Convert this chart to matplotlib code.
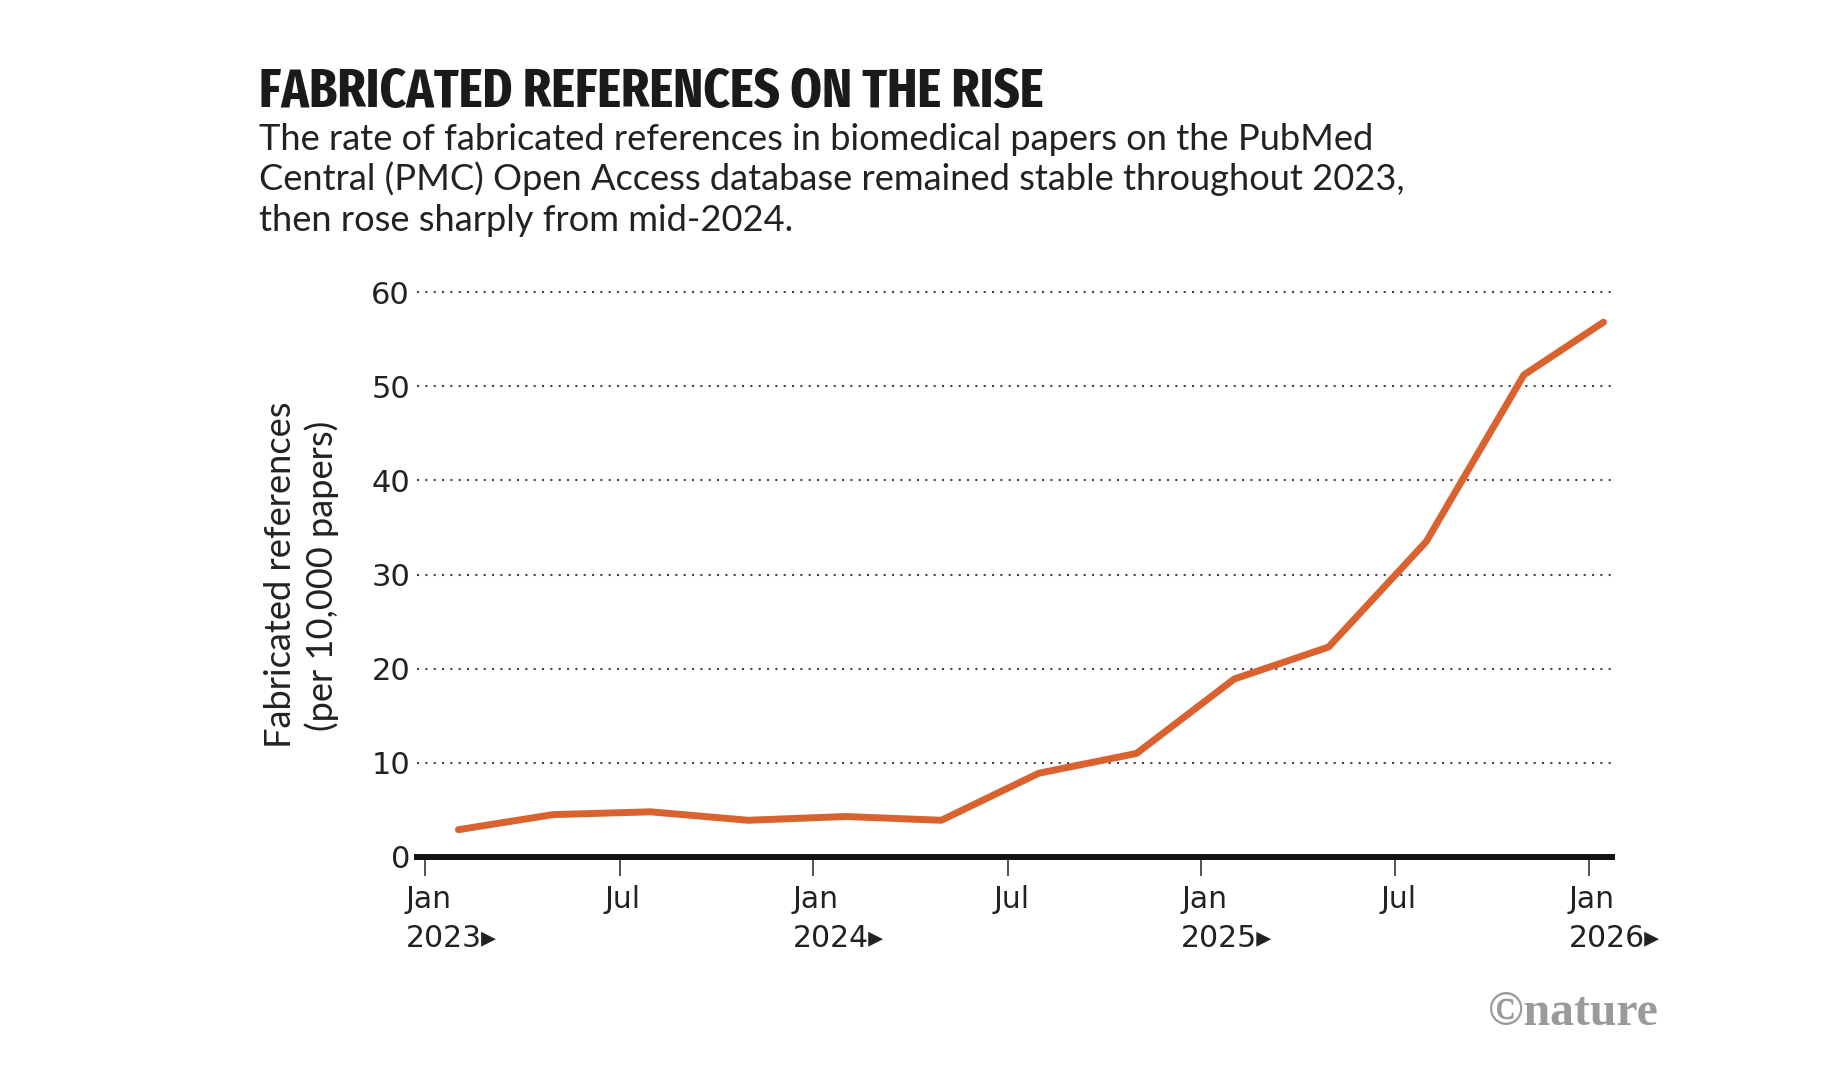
import matplotlib
matplotlib.use("Agg")
import matplotlib.pyplot as plt
import matplotlib.dates as mdates
import pandas as pd
from matplotlib import font_manager as fm
from matplotlib.textpath import TextPath
from matplotlib.font_manager import FontProperties

# ---------------- data ----------------
dates = ["2023-02-01", "2023-05-01", "2023-08-01", "2023-11-01",
         "2024-02-01", "2024-05-01", "2024-08-01", "2024-11-01",
         "2025-02-01", "2025-05-01", "2025-08-01", "2025-11-01",
         "2026-01-15"]
values = [2.9, 4.5, 4.8, 3.9, 4.3, 3.9, 8.9, 11.0, 18.9, 22.3, 33.5, 51.2, 56.8]

yticks = [0, 10, 20, 30, 40, 50, 60]
xtick_dates = ["2023-01-01", "2023-07-03", "2024-01-01", "2024-07-03",
               "2025-01-01", "2025-07-03", "2026-01-01"]
xtick_labels = ["Jan\n2023\u25B8", "Jul", "Jan\n2024\u25B8", "Jul",
                "Jan\n2025\u25B8", "Jul", "Jan\n2026\u25B8"]

title = "FABRICATED REFERENCES ON THE RISE"
subtitle_lines = [
    "The rate of fabricated references in biomedical papers on the PubMed",
    "Central (PMC) Open Access database remained stable throughout 2023,",
    "then rose sharply from mid-2024.",
]
ylabel_lines = ["Fabricated references", "(per 10,000 papers)"]
logo = "\u00A9nature"

# ---------------- fonts ----------------
def pick_title_font():
    entries = fm.fontManager.ttflist
    def good(f, keys):
        fn = f.fname.replace("-", "").replace("_", "").lower()
        nm = f.name.lower()
        if "italic" in fn or "oblique" in fn:
            return False
        return any(k in fn or k in nm for k in keys)
    prefs = [
        (["extracondensedbold", "extracondensed bold"], 650),
        (["condensedbold", "condensed bold", "condbold"], 650),
        (["narrowbold", "narrow bold"], 650),
        (["condensed", "narrow"], 650),
    ]
    for keys, minw in prefs:
        cands = [f for f in entries if good(f, keys)
                 and isinstance(f.weight, int) and f.weight >= minw]
        if not cands:
            cands = [f for f in entries if good(f, keys)
                     and str(f.weight) in ("bold", "heavy", "black", "700", "800", "900")]
        if cands:
            cands.sort(key=lambda f: (0 if "semi" not in f.fname.lower() else 1))
            return FontProperties(fname=cands[0].fname)
    return FontProperties(family=["Roboto", "DejaVu Sans"], weight="bold")

title_fp = pick_title_font()
body_family = ["Lato", "DejaVu Sans"]
tick_family = ["DejaVu Sans"]

# ---------------- figure ----------------
W, H = 1848, 1080
fig = plt.figure(figsize=(W / 100, H / 100), dpi=100)
fig.patch.set_facecolor("white")

ax_left, ax_right = 417, 1612
y0_px, ytop_px = 857, 282.6
ax = fig.add_axes([ax_left / W, 1 - y0_px / H,
                   (ax_right - ax_left) / W, (y0_px - ytop_px) / H])

x = pd.to_datetime(dates)
ax.plot(x, values, color="#D9622F", lw=5, solid_capstyle="round",
        solid_joinstyle="round", zorder=3)

ax.set_ylim(0, 61)
ax.set_xlim(pd.Timestamp("2022-12-24"), pd.Timestamp("2026-01-23"))

for s in ["top", "right", "left"]:
    ax.spines[s].set_visible(False)
ax.spines["bottom"].set_linewidth(4.3)
ax.spines["bottom"].set_color("#111111")
ax.spines["bottom"].set_zorder(4)

ax.set_yticks(yticks)
ax.set_yticklabels([str(v) for v in yticks], family=tick_family)
ax.tick_params(axis="y", length=0, pad=5, labelsize=22, labelcolor="#222222")

xt = pd.to_datetime(xtick_dates)
ax.set_xticks(xt)
ax.tick_params(axis="x", length=14, width=1.2, color="#333333",
               direction="out", labelbottom=False)

ax.grid(axis="y", linestyle=(0, (1, 3)), lw=1.5, color="#444444")
ax.grid(axis="x", visible=False)

for d, lab in zip(xt, xtick_labels):
    xn = mdates.date2num(d)
    if lab.startswith("Jan"):
        ax.annotate(lab, xy=(xn, 0), xycoords=("data", "axes fraction"),
                    xytext=(-20, -28), textcoords="offset pixels",
                    ha="left", va="top", fontsize=21.5, family=tick_family,
                    color="#222222", linespacing=1.42, annotation_clip=False)
    else:
        ax.annotate(lab, xy=(xn, 0), xycoords=("data", "axes fraction"),
                    xytext=(3, -28), textcoords="offset pixels",
                    ha="center", va="top", fontsize=21.5, family=tick_family,
                    color="#222222", annotation_clip=False)

# ---------------- texts ----------------
renderer = fig.canvas.get_renderer()

def fit(t, target, dim="w", it=2):
    for _ in range(it):
        bb = t.get_window_extent(renderer)
        cur = bb.width if dim == "w" else bb.height
        t.set_fontsize(t.get_fontsize() * target / cur)

# title
t_title = fig.text(259 / W, 1 - 107 / H, title, fontproperties=title_fp,
                   fontsize=40, color="#1a1a1a", ha="left", va="baseline")
fit(t_title, 784)
cap = TextPath((0, 0), "H", size=100, prop=title_fp).get_extents().height / 100
max_pt = (40 / cap) * 0.72
if t_title.get_fontsize() > max_pt:
    t_title.set_fontsize(max_pt)

# subtitle
sub_baselines = [150, 190.5, 231]
sub_texts = []
for line, yb in zip(subtitle_lines, sub_baselines):
    sub_texts.append(fig.text(259 / W, 1 - yb / H, line, family=body_family,
                              fontsize=22, color="#222222", ha="left",
                              va="baseline"))
fit(sub_texts[1], 1144)
for t in sub_texts:
    t.set_fontsize(sub_texts[1].get_fontsize())

# y label (two lines)
yl1 = fig.text(280.5 / W, 1 - 574.5 / H, ylabel_lines[0], family=body_family,
               fontsize=22, rotation=90, ha="center", va="center",
               color="#222222")
fit(yl1, 347, dim="h")
yl2 = fig.text(322 / W, 1 - 576 / H, ylabel_lines[1], family=body_family,
               fontsize=yl1.get_fontsize(), rotation=90, ha="center",
               va="center", color="#222222")

# logo
t_logo = fig.text(1488 / W, 1 - 1025 / H, logo,
                  family=["Liberation Serif", "DejaVu Serif"],
                  weight="bold", fontsize=28, color="#9a9a9a",
                  ha="left", va="baseline")
fit(t_logo, 170)

fig.savefig("out.png", dpi=100, facecolor="white")
